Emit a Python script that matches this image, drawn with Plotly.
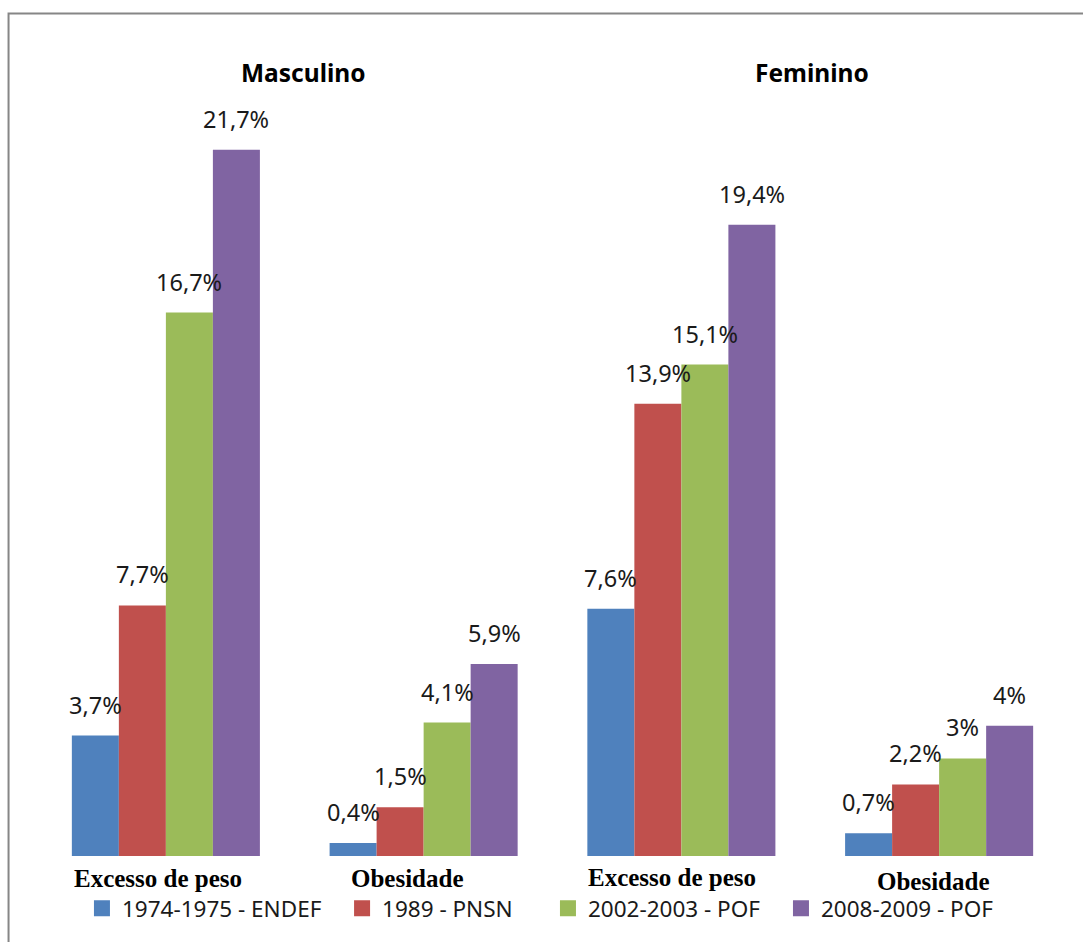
import plotly.graph_objects as go

# Prevalence of overweight and obesity among adolescents, by sex and survey
groups = ["Excesso de peso", "Obesidade", "Excesso de peso", "Obesidade"]
sexes = ["Masculino", "Feminino"]
series = ["1974-1975 - ENDEF", "1989 - PNSN", "2002-2003 - POF", "2008-2009 - POF"]
endef_1974 = [3.7, 0.4, 7.6, 0.7]
pnsn_1989 = [7.7, 1.5, 13.9, 2.2]
pof_2002 = [16.7, 4.1, 15.1, 3.0]
pof_2008 = [21.7, 5.9, 19.4, 4.0]
colors = ["#4F81BD", "#C0504D", "#9BBB59", "#8064A2"]

values = [endef_1974, pnsn_1989, pof_2002, pof_2008]
positions = list(range(len(groups)))

bar_w = 0.1824  # width of one bar in category units
label_font = dict(family="Noto Sans", size=23.5, color="#1a1a1a")

# one legend box per series so each entry sits at its own horizontal spot
legend_ids = ["legend", "legend2", "legend3", "legend4"]
legend_x = [0.0436, 0.2959, 0.4956, 0.7216]


def pct(v):
    return f"{v:g}".replace(".", ",") + "%"


fig = go.Figure()
annotations = []
for s, (name, vals, col) in enumerate(zip(series, values, colors)):
    offs = (s - 1.5) * bar_w
    xs = [p + offs for p in positions]
    fig.add_trace(go.Bar(
        x=xs, y=vals, width=bar_w, name=name, showlegend=False,
        legendgroup=name, marker=dict(color=col, line=dict(width=0)),
    ))
    # legend entry with a larger square swatch
    fig.add_trace(go.Scatter(
        x=[None], y=[None], mode="markers", name=name, legendgroup=name,
        legend=legend_ids[s],
        marker=dict(symbol="square", size=16, color=col),
    ))
    for x, v in zip(xs, vals):
        annotations.append(dict(
            x=x, y=v, xref="x", yref="y", text=pct(v), showarrow=False,
            yanchor="bottom", xanchor="center", yshift=13, font=label_font,
        ))

# Sex headers
for sx, xc in zip(sexes, [0.532, 2.507]):
    annotations.append(dict(
        x=xc, y=1.0026, xref="x", yref="paper", text=f"<b>{sx}</b>",
        showarrow=False, yanchor="middle", xanchor="center",
        font=dict(family="Noto Sans", size=24.5, color="#000000"),
    ))

# Group labels under the bars
for g, xc, yc in zip(groups, [-0.031, 0.939, 1.963, 2.980],
                     [-0.0294, -0.0294, -0.027, -0.033]):
    annotations.append(dict(
        x=xc, y=yc, xref="x", yref="paper", text=f"<b>{g}</b>",
        showarrow=False, yanchor="middle", xanchor="center",
        font=dict(family="Liberation Serif", size=25, color="#000000"),
    ))

legend_style = dict(
    orientation="h", xanchor="left", y=-0.0675, yanchor="middle",
    font=dict(family="Noto Sans", size=22.5, color="#1a1a1a"),
    itemsizing="trace", itemwidth=30, bgcolor="rgba(0,0,0,0)",
)
legends = {lid: dict(legend_style, x=lx) for lid, lx in zip(legend_ids, legend_x)}

fig.update_layout(
    width=1083, height=942,
    margin=dict(l=37, r=15, t=75, b=86),
    paper_bgcolor="white", plot_bgcolor="white",
    barmode="overlay",
    showlegend=True,
    **legends,
    xaxis=dict(range=[-0.5, 3.5], showticklabels=False, showgrid=False,
               zeroline=False, showline=False, ticks=""),
    yaxis=dict(range=[0, 24], showticklabels=False, showgrid=False,
               zeroline=False, showline=False, ticks=""),
    annotations=annotations,
    shapes=[dict(type="rect", xref="paper", yref="paper",
                 x0=-0.0276, x1=1.2, y0=-0.3, y1=1.0787,
                 line=dict(color="#868686", width=2), fillcolor="rgba(0,0,0,0)")],
)

fig.write_html("out.html")
